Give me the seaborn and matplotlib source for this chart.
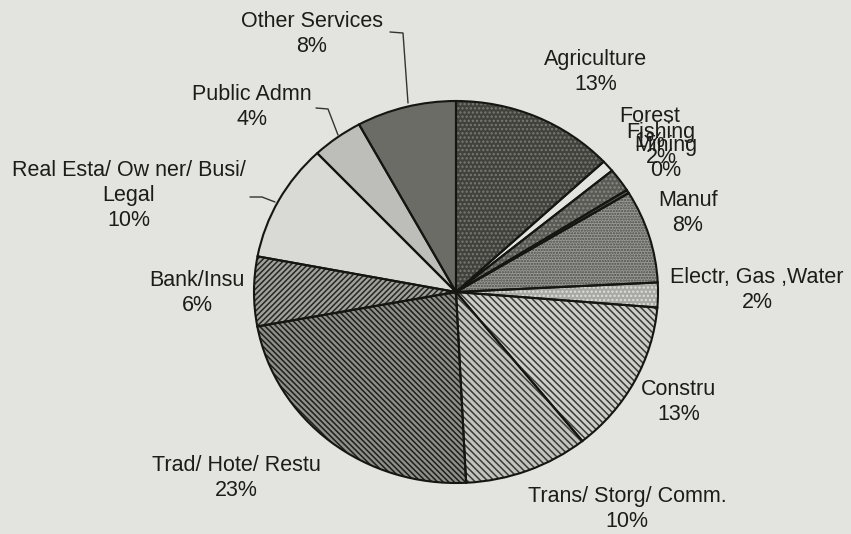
import matplotlib
matplotlib.use("Agg")
import matplotlib.pyplot as plt
import matplotlib.lines as mlines
import seaborn as sns

# sectors clockwise from 12 o'clock, share of output (%)
sectors = [
    "Agriculture", "Forest", "Fishing", "Mining", "Manuf", "Electr, Gas ,Water",
    "Constru", "Trans/ Storg/ Comm.", "Trad/ Hote/ Restu", "Bank/Insu",
    "Real Esta/ Ow ner/ Busi/\nLegal", "Public Admn", "Other Services",
]
shares = [13.1, 1.0, 2.0, 0.3, 7.9, 2.1, 13.0, 10.0, 23.0, 5.9, 10.0, 4.1, 8.0]

# look of each wedge (scanned grey patterns)
fills = ["#42423d", "#e4e4de", "#5a5a55", "#555550", "#9a9a96", "#a8a8a4",
         "#cdcdc9", "#c2c2be", "#8e8e8a", "#a0a09c", "#d9d9d5", "#bdbdb9", "#6c6c66"]
hatches = ["....", "", "....", "", "......", "....", "\\" * 5, "\\" * 5, "\\" * 6,
           "/" * 6, "", "", ""]
hatch_cols = ["#7a7a74", "#e4e4de", "#8a8a84", "#555550", "#4a4a46", "#e0e0da",
              "#3a3a36", "#3a3a36", "#1e1e1a", "#262622", "#d9d9d5", "#bdbdb9", "#6c6c66"]

# label block centres in pixels (x from left, y from top)
label_pos = [(596, 72), (650, 129), (661, 145), (666, 158), (688, 213), (757, 290),
             (679, 402), (627, 509), (236, 478), (197, 293), (129, 196), (252, 107),
             (312, 34)]
leaders = [
    [(390, 32), (403, 33), (408, 103)],
    [(316, 108), (328, 109), (338, 135)],
    [(250, 197), (262, 197), (275, 202)],
]

W, H = 851, 534
CX, CY, RX, RY = 456, 292, 202, 191

sns.set_theme(style="white")
plt.rcParams["font.family"] = ["Liberation Sans", "DejaVu Sans"]
plt.rcParams["hatch.linewidth"] = 1.1

fig = plt.figure(figsize=(W / 100, H / 100), dpi=100, facecolor="#e3e3df")
ax = fig.add_axes([0, 0, 1, 1])
ax.set_facecolor("#e3e3df")

# filled + hatched wedges
wedges, _ = ax.pie(shares, startangle=90, counterclock=False, colors=fills,
                   wedgeprops=dict(linewidth=0))
for w, h, hc in zip(wedges, hatches, hatch_cols):
    w.set_edgecolor(hc)
    w.set_hatch(h)

# outlines on top
outl, _ = ax.pie(shares, startangle=90, counterclock=False,
                 wedgeprops=dict(fill=False, edgecolor="#151512", linewidth=1.5))

ax.set_aspect("auto")
ax.set_xlim(-CX / RX, (W - CX) / RX)
ax.set_ylim(-(H - CY) / RY, CY / RY)
ax.axis("off")

total = sum(shares)
for name, v, (x, y) in zip(sectors, shares, label_pos):
    fig.text(x / W, 1 - y / H, f"{name}\n{round(v / total * 100):.0f}%",
             ha="center", va="center", multialignment="center",
             fontsize=15.5, color="#1c1c1a", linespacing=1.25)

for pts in leaders:
    xs = [p[0] / W for p in pts]
    ys = [1 - p[1] / H for p in pts]
    fig.add_artist(mlines.Line2D(xs, ys, transform=fig.transFigure,
                                 color="#333330", linewidth=1.0))

fig.savefig("out.png", dpi=100, facecolor=fig.get_facecolor())
